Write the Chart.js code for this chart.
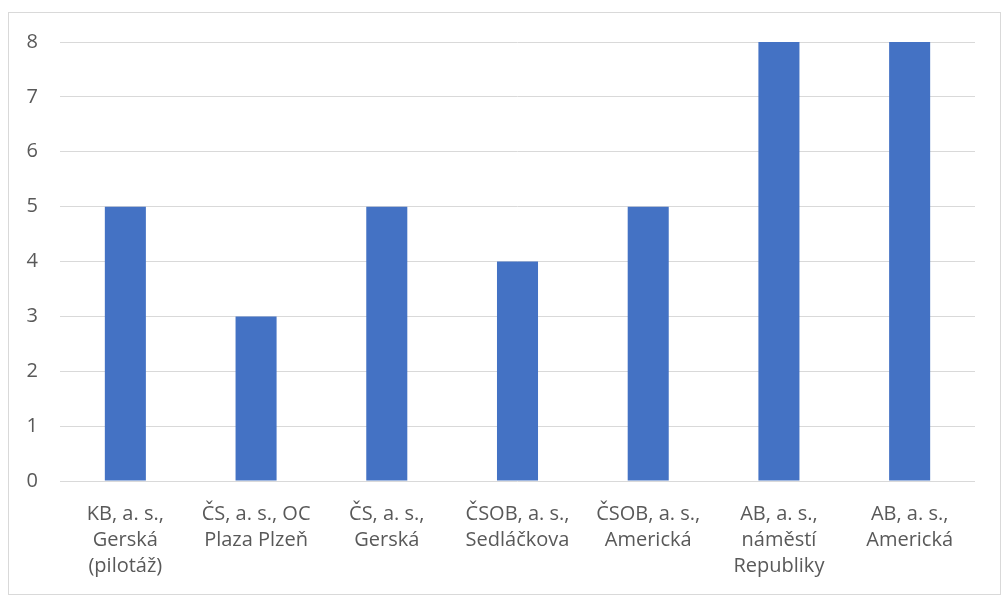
<!DOCTYPE html>
<html>
<head>
<meta charset="utf-8">
<script src="https://cdn.jsdelivr.net/npm/chart.js"></script>
<style>
  html, body { margin: 0; padding: 0; background: #fff; }
  #wrap { width: 1004px; height: 596px; position: relative; }
</style>
</head>
<body>
<div id="wrap"><canvas id="chart"></canvas></div>
<script>
var labels = [
  ['KB, a. s.,', 'Gerská', '(pilotáž)'],
  ['ČS, a. s., OC', 'Plaza Plzeň'],
  ['ČS, a. s.,', 'Gerská'],
  ['ČSOB, a. s.,', 'Sedláčkova'],
  ['ČSOB, a. s.,', 'Americká'],
  ['AB, a. s.,', 'náměstí', 'Republiky'],
  ['AB, a. s.,', 'Americká']
];
var values = [5, 3, 5, 4, 5, 8, 8];

var frame = {
  id: 'frame',
  beforeDraw: function(chart) {
    var ctx = chart.ctx;
    ctx.save();
    ctx.strokeStyle = '#d9d9d9';
    ctx.lineWidth = 1;
    ctx.strokeRect(8.5, 12.5, 992, 582);
    ctx.restore();
  }
};

var ctx = document.getElementById('chart').getContext('2d');
var chart = new Chart(ctx, {
  type: 'bar',
  data: {
    labels: labels,
    datasets: [{
      data: values,
      backgroundColor: '#4472c4',
      barPercentage: 0.314,
      categoryPercentage: 1
    }]
  },
  options: {
    responsive: true,
    maintainAspectRatio: false,
    animation: false,
    layout: { padding: { top: 42, right: 29, left: 0, bottom: 0 } },
    plugins: {
      legend: { display: false },
      tooltip: { enabled: false }
    },
    scales: {
      x: {
        grid: { display: false },
        border: { display: false },
        ticks: {
          color: '#595959',
          padding: 12,
          maxRotation: 0,
          autoSkip: false,
          font: { family: 'Open Sans', size: 20, lineHeight: 1.3 }
        },
        afterFit: function(s) { s.height = 115; }
      },
      y: {
        min: 0,
        max: 8,
        grid: { color: '#d9d9d9', drawTicks: false },
        border: { display: false },
        ticks: {
          stepSize: 1,
          color: '#595959',
          padding: 22,
          font: { family: 'Open Sans', size: 20 }
        },
        afterFit: function(s) { s.width = 60; }
      }
    }
  },
  plugins: [frame]
});
</script>
</body>
</html>
